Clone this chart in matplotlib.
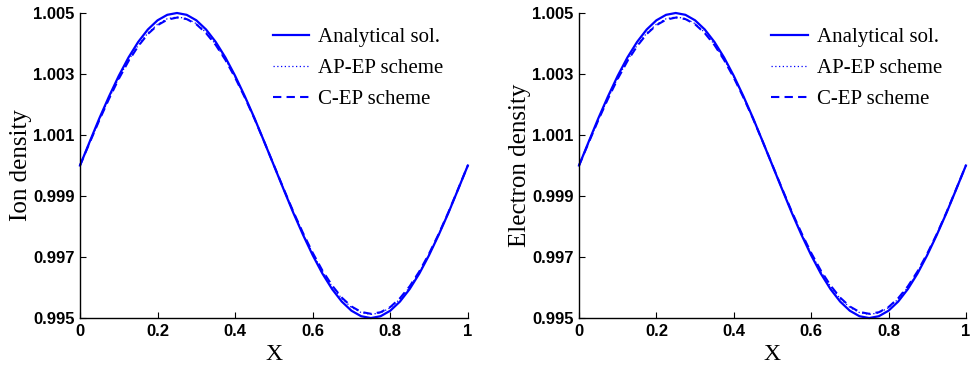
import matplotlib
matplotlib.use("Agg")
import matplotlib.pyplot as plt

# x samples
x = [0.000, 0.025, 0.050, 0.075, 0.100, 0.125, 0.150, 0.175, 0.200, 0.225,
     0.250, 0.275, 0.300, 0.325, 0.350, 0.375, 0.400, 0.425, 0.450, 0.475,
     0.500, 0.525, 0.550, 0.575, 0.600, 0.625, 0.650, 0.675, 0.700, 0.725,
     0.750, 0.775, 0.800, 0.825, 0.850, 0.875, 0.900, 0.925, 0.950, 0.975, 1.000]

analytical = [1.00000, 1.00078, 1.00155, 1.00227, 1.00294, 1.00354, 1.00405, 1.00446, 1.00476, 1.00494,
              1.00500, 1.00494, 1.00476, 1.00446, 1.00405, 1.00354, 1.00294, 1.00227, 1.00155, 1.00078,
              1.00000, 0.99922, 0.99845, 0.99773, 0.99706, 0.99646, 0.99595, 0.99554, 0.99524, 0.99506,
              0.99500, 0.99506, 0.99524, 0.99554, 0.99595, 0.99646, 0.99706, 0.99773, 0.99845, 0.99922, 1.00000]

ap_ep = [1.00000, 1.00076, 1.00150, 1.00221, 1.00286, 1.00345, 1.00394, 1.00434, 1.00463, 1.00481,
         1.00487, 1.00482, 1.00465, 1.00436, 1.00397, 1.00348, 1.00290, 1.00225, 1.00154, 1.00079,
         1.00001, 0.99923, 0.99848, 0.99777, 0.99712, 0.99653, 0.99604, 0.99564, 0.99535, 0.99518,
         0.99512, 0.99517, 0.99534, 0.99562, 0.99601, 0.99650, 0.99708, 0.99774, 0.99846, 0.99923, 1.00000]

c_ep = [1.00000, 1.00075, 1.00149, 1.00219, 1.00284, 1.00342, 1.00391, 1.00431, 1.00460, 1.00478,
        1.00485, 1.00480, 1.00463, 1.00434, 1.00395, 1.00346, 1.00288, 1.00223, 1.00153, 1.00078,
        1.00001, 0.99924, 0.99849, 0.99779, 0.99714, 0.99656, 0.99607, 0.99567, 0.99538, 0.99520,
        0.99514, 0.99519, 0.99536, 0.99565, 0.99604, 0.99653, 0.99711, 0.99776, 0.99847, 0.99923, 1.00000]

ylabels = ["Ion density", "Electron density"]
series_names = ["Analytical sol.", "AP-EP scheme", "C-EP scheme"]
yticks = [0.995, 0.997, 0.999, 1.001, 1.003, 1.005]
xticks = [0, 0.2, 0.4, 0.6, 0.8, 1]

fig = plt.figure(figsize=(9.72, 3.66), dpi=100)
positions = [[0.0823, 0.131, 0.399, 0.8335], [0.5957, 0.131, 0.398, 0.8335]]
blue = (0, 0, 1)
serif = "Liberation Serif"
sans = "Liberation Sans"

for pos, ylab in zip(positions, ylabels):
    ax = fig.add_axes(pos)
    ax.plot(x, analytical, color=blue, lw=1.6, ls="-", label=series_names[0], clip_on=False)
    ax.plot(x, ap_ep, color=blue, lw=0.9, ls=(0, (1, 2)), label=series_names[1], clip_on=False)
    ax.plot(x, c_ep, color=blue, lw=1.5, ls=(0, (4, 2.5)), label=series_names[2], clip_on=False)
    ax.set_xlim(0, 1)
    ax.set_ylim(0.995, 1.005)
    ax.set_xticks(xticks)
    ax.set_xticklabels(["0", "0.2", "0.4", "0.6", "0.8", "1"])
    ax.set_yticks(yticks)
    ax.set_yticklabels(["%.3f" % v for v in yticks])
    for lbl in ax.get_xticklabels() + ax.get_yticklabels():
        lbl.set_fontfamily(sans)
        lbl.set_fontweight("bold")
        lbl.set_fontsize(12)
    ax.tick_params(direction="in", length=4, width=0.8, pad=4, top=False, right=False)
    ax.spines["top"].set_visible(False)
    ax.spines["right"].set_visible(False)
    for s in ("left", "bottom"):
        ax.spines[s].set_linewidth(1.0)
    ax.set_xlabel("X", fontfamily=serif, fontsize=17, labelpad=4)
    ax.set_ylabel(ylab, fontfamily=serif, fontsize=18, labelpad=1)
    ax.legend(loc="upper left", bbox_to_anchor=(0.475, 0.98), frameon=False,
              prop={"family": serif, "size": 15}, handlelength=1.75,
              handletextpad=0.45, labelspacing=0.55, borderaxespad=0)

fig.savefig("out.png", dpi=100)
